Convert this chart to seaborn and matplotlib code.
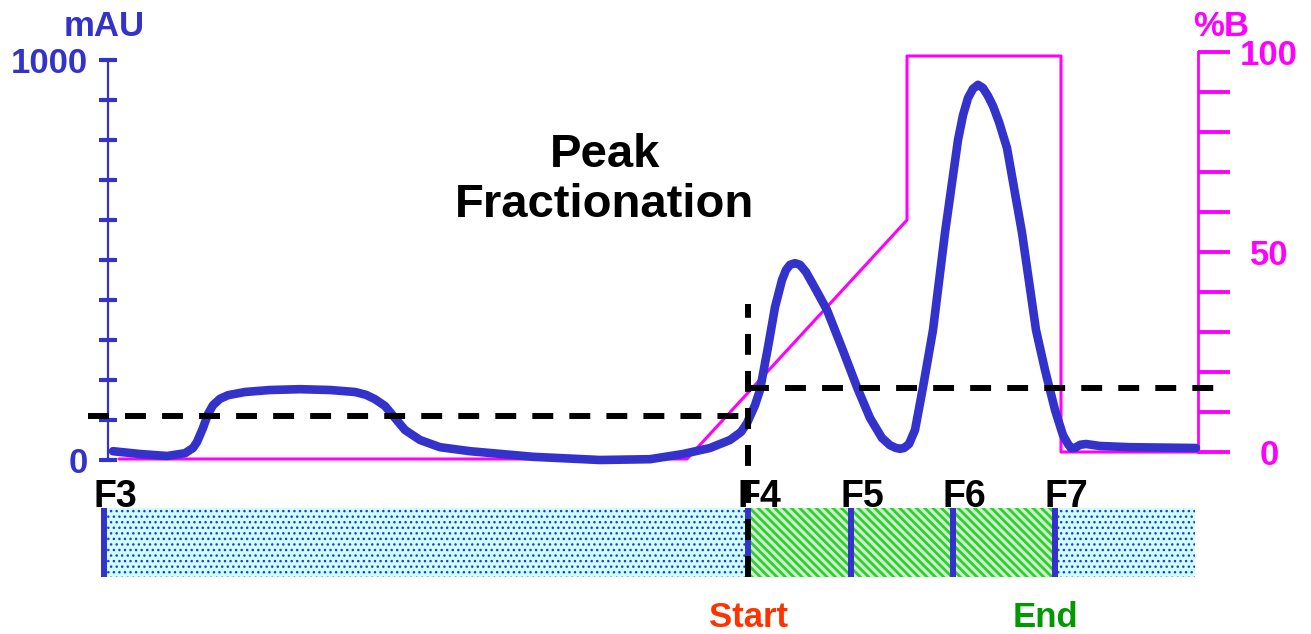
import numpy as np
import matplotlib
matplotlib.use("Agg")
import matplotlib.pyplot as plt
import seaborn as sns

# ---------------- data ----------------
# UV absorbance trace: volume (arbitrary units) vs mAU
uv_x = [0.5, 3.2, 5.9, 7.7, 8.5, 8.9, 9.5, 10.0, 10.5, 11.2, 12.0, 13.7, 16.2,
        19.2, 22.2, 24.7, 25.8, 26.7, 27.7, 28.7, 29.7, 31.2, 33.2, 36.2, 42.5,
        49.2, 54.2, 57.5, 60.2, 62.2, 63.3, 63.9, 64.7, 65.2, 66.0, 66.7, 67.4,
        67.8, 68.2, 68.7, 69.2, 69.8, 70.7, 71.9, 73.4, 74.9, 76.2, 77.4, 78.2,
        78.8, 79.2, 79.6, 80.1, 80.7, 81.5, 82.5, 83.7, 85.0, 85.5, 86.0, 86.5,
        87.0, 87.5, 88.0, 88.5, 89.1, 89.9, 91.4, 92.8, 93.7, 94.7, 95.5, 96.0,
        96.3, 96.7, 97.2, 97.8, 99.2, 102.2, 108.8]
uv_mau = [22, 15, 10, 17, 30, 45, 80, 115, 137, 153, 162, 170, 175,
          177, 175, 170, 163, 152, 135, 105, 75, 50, 32, 22, 8,
          0, 2, 15, 30, 50, 70, 92, 137, 175, 282, 382, 450,
          475, 488, 492, 488, 470, 430, 375, 280, 182, 105, 55, 37,
          30, 28, 30, 40, 75, 182, 325, 568, 800, 862, 905, 928,
          938, 930, 910, 885, 845, 780, 568, 325, 225, 125, 62, 40,
          30, 30, 38, 40, 35, 32, 30]

# Gradient %B
grad_x = [1.1, 57.9, 79.9, 79.9, 95.3, 95.3, 109.0]
grad_b = [-1.75, -1.75, 58, 99, 99, 0, 0]

# Peak-detection thresholds (mAU)
thr_before_x = [-2.0, 64.0]
thr_before = 110
thr_after_x = [64.0, 111.0]
thr_after = 180
start_line_top = 390

# Fractions
frac_bounds = [-0.4, 64.0, 74.3, 84.5, 94.7]
frac_labels = ["F3", "F4", "F5", "F6", "F7"]
bar_extent = [-0.6, 108.7]
collect_start = 64.0
collect_end = 94.7

left_ticks = list(range(0, 1001, 100))
left_ticklabels = ["0"] + [""] * 9 + ["1000"]
right_ticks = list(range(0, 101, 10))
right_ticklabels = ["0", "", "", "", "", "50", "", "", "", "", "100"]

# ---------------- style ----------------
BLUE = "#3333CC"
MAGENTA = "#FF00FF"
sns.set_style("white")
plt.rcParams["font.family"] = ["Liberation Sans", "DejaVu Sans"]
plt.rcParams["font.weight"] = "bold"
plt.rcParams["hatch.linewidth"] = 1.6

W, H = 1311, 634
fig = plt.figure(figsize=(W / 100, H / 100), dpi=100)

# axes box in pixels: x 88..1230, y 52..580
ax = fig.add_axes([88 / W, (H - 580) / H, (1230 - 88) / W, (580 - 52) / H])
ax2 = ax.twinx()
ax.set_zorder(ax2.get_zorder() + 1)
ax.patch.set_visible(False)

ax.set_xlim(-2.0, 112.2)
ax.set_ylim(-300, 1020)
ax2.set_ylim(-32, 100)

# gradient
sns.lineplot(x=grad_x, y=grad_b, ax=ax2, sort=False, estimator=None,
             color=MAGENTA, linewidth=2.2)

# UV trace
sns.lineplot(x=uv_x, y=uv_mau, ax=ax, sort=False, estimator=None,
             color=BLUE, linewidth=6.2, solid_capstyle="round",
             solid_joinstyle="round", zorder=5)

# fraction bar (in mAU data coords below zero)
bar_top, bar_bot = -120, -292.5
bar_h = bar_top - bar_bot
bar_c = (bar_top + bar_bot) / 2
segs = [(bar_extent[0], collect_start), (collect_start, collect_end),
        (collect_end, bar_extent[1])]
for i, (a, b) in enumerate(segs):
    if i == 1:
        cont = ax.barh(bar_c, b - a, left=a, height=bar_h, color="#C8F2C8",
                       edgecolor="#33CC33", hatch="\\\\\\\\", linewidth=0, zorder=2)
        hlw = 2.0
    else:
        cont = ax.barh(bar_c, b - a, left=a, height=bar_h, color="#CCFFFF",
                       edgecolor=BLUE, hatch="...", linewidth=0, zorder=2)
        hlw = 1.0
    for p in cont.patches:
        setter = getattr(p, "set_hatch_linewidth", None)
        if setter is not None:
            setter(hlw)
ax.vlines(frac_bounds, bar_bot, bar_top, color=BLUE, linewidth=4.3, zorder=3)

# thresholds and start line
dash_kw = dict(color="black", linewidth=4.3, linestyles=(0, (3.5, 2.7)), zorder=7)
ax.hlines(thr_before, thr_before_x[0], thr_before_x[1], **dash_kw)
ax.hlines(thr_after, thr_after_x[0], thr_after_x[1], **dash_kw)
ax.vlines(collect_start, bar_bot, start_line_top, **dash_kw)

# fraction labels
for b, lab in zip(frac_bounds, frac_labels):
    ax.annotate(lab, xy=(b, bar_top), xytext=(11, 1), textcoords="offset pixels",
                ha="center", va="baseline", fontsize=27, fontweight="bold",
                color="black", zorder=8)
ax.annotate("Start", xy=(collect_start, bar_bot), xytext=(0, -50),
            textcoords="offset pixels", ha="center", va="baseline",
            fontsize=25, fontweight="bold", color="#FF3300")
ax.annotate("End", xy=(collect_end, bar_bot), xytext=(-10, -50),
            textcoords="offset pixels", ha="center", va="baseline",
            fontsize=25, fontweight="bold", color="#009900")

# spines and ticks
for s in ["top", "bottom", "right"]:
    ax.spines[s].set_visible(False)
for s in ["top", "bottom", "left"]:
    ax2.spines[s].set_visible(False)
ax.spines["left"].set_position(("data", 0))
ax.spines["left"].set_bounds(0, 1000)
ax.spines["left"].set_color(BLUE)
ax.spines["left"].set_linewidth(1.6)
ax2.spines["right"].set_position(("data", 109.0))
ax2.spines["right"].set_bounds(0, 100)
ax2.spines["right"].set_color(MAGENTA)
ax2.spines["right"].set_linewidth(2.0)

ax.set_xticks([])
ax2.set_xticks([])
ax.set_yticks(left_ticks)
ax.set_yticklabels(left_ticklabels)
ax.tick_params(axis="y", direction="inout", length=13, width=3.0, color=BLUE,
               labelcolor=BLUE, labelsize=25, pad=8, left=True)
ax2.set_yticks(right_ticks)
ax2.set_yticklabels(right_ticklabels)
ax2.tick_params(axis="y", direction="out", length=23, width=2.8, color=MAGENTA,
                labelcolor=MAGENTA, labelsize=25, pad=28, right=True)
for t in ax.get_yticklabels() + ax2.get_yticklabels():
    t.set_fontweight("bold")
for t in ax2.get_yticklabels():
    t.set_horizontalalignment("center")
ax.set_xlabel("")
ax.set_ylabel("")
ax2.set_ylabel("")

fig.text(104.5 / W, 1 - 26 / H, "mAU", ha="center", va="center", fontsize=25,
         fontweight="bold", color=BLUE)
fig.text(1221 / W, 1 - 26 / H, "%B", ha="center", va="center", fontsize=25,
         fontweight="bold", color=MAGENTA)
fig.text(605 / W, 1 - 180 / H, "Peak\nFractionation", ha="center", va="center",
         fontsize=34, fontweight="bold", color="black", linespacing=1.17)

fig.savefig("out.png", dpi=100)
